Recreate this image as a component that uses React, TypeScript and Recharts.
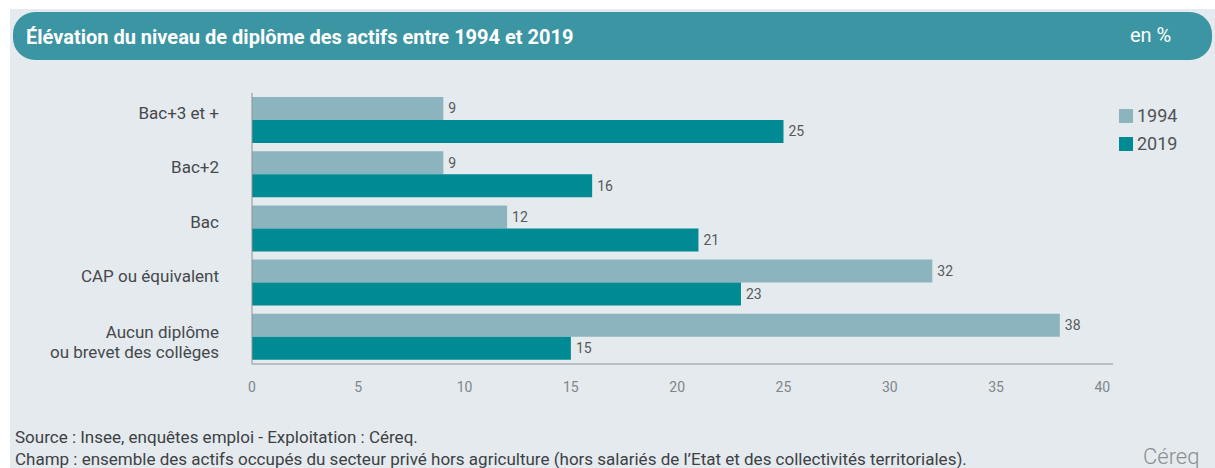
import React from 'react';
import { BarChart, Bar, XAxis, YAxis, LabelList } from 'recharts';

const categories = ['Bac+3 et +', 'Bac+2', 'Bac', 'CAP ou équivalent', 'Aucun diplôme\nou brevet des collèges'];
const values1994 = [9, 9, 12, 32, 38];
const values2019 = [25, 16, 21, 23, 15];
const xTicks = [0, 5, 10, 15, 20, 25, 30, 35, 40];

const series = [
    { key: 'y1994', name: '1994', color: '#8cb4be' },
    { key: 'y2019', name: '2019', color: '#008a93' },
];

const data = categories.map((category, i) => ({
    category,
    y1994: values1994[i],
    y2019: values2019[i],
}));

const FONT = 'Roboto, "Noto Sans", sans-serif';
const AXIS_COLOR = '#8c9296';

// two-line labels are split on \n
const CategoryTick = (props: any) => {
    const { x, y, payload } = props;
    const lines = String(payload.value).split('\n');
    return (
        <text x={x} y={y} textAnchor="end" fill="#45494c" fontSize={17} fontFamily={FONT}>
            {lines.length === 1 ? (
                <tspan x={x} dy={-1}>{lines[0]}</tspan>
            ) : (
                lines.map((line, i) => (
                    <tspan key={i} x={x} dy={i === 0 ? 1 : 20}>{line}</tspan>
                ))
            )}
        </text>
    );
};

const App: React.FC = () => {
    return (
        <div style={{ position: 'absolute', left: 0, top: 0, width: 1215, height: 468, background: '#fff', overflow: 'hidden' }}>
            <div style={{ position: 'absolute', left: 10, top: 9, right: 0, bottom: 0, background: '#e4eaee' }} />

            {/* title banner */}
            <div
                style={{
                    position: 'absolute', left: 13, top: 12, width: 1199, height: 48,
                    background: '#3b95a2', borderRadius: 22,
                }}
            />
            <div style={{ position: 'absolute', left: 26, top: 25, color: '#fff', fontFamily: FONT, fontWeight: 700, fontSize: 20, whiteSpace: 'nowrap' }}>
                Élévation du niveau de diplôme des actifs entre 1994 et 2019
            </div>
            <div style={{ position: 'absolute', left: 1130, top: 23, color: '#fff', fontFamily: FONT, fontSize: 20, whiteSpace: 'nowrap' }}>
                en %
            </div>

            <div style={{ position: 'absolute', left: 0, top: 0 }}>
                <BarChart
                    width={1215}
                    height={420}
                    data={data}
                    layout="vertical"
                    margin={{ top: 93, right: 102, bottom: 26, left: 0 }}
                    barCategoryGap={4}
                    barGap={0}
                >
                    <XAxis
                        type="number"
                        domain={[0, 40.5]}
                        ticks={xTicks}
                        height={30}
                        axisLine={{ stroke: AXIS_COLOR }}
                        tickLine={false}
                        tickSize={0}
                        tickMargin={18}
                        tick={{ fill: '#80868a', fontSize: 14, fontFamily: FONT }}
                    />
                    <YAxis
                        type="category"
                        dataKey="category"
                        width={252}
                        axisLine={{ stroke: AXIS_COLOR }}
                        tickLine={false}
                        tickSize={0}
                        tickMargin={33}
                        tick={<CategoryTick />}
                        interval={0}
                    />
                    {series.map((s) => (
                        <Bar key={s.key} dataKey={s.key} name={s.name} fill={s.color} isAnimationActive={false}>
                            <LabelList dataKey={s.key} position="right" offset={5} fill="#55595c" fontSize={14} fontFamily={FONT} />
                        </Bar>
                    ))}
                </BarChart>
            </div>

            {/* legend */}
            {series.map((s, i) => (
                <div key={s.key} style={{ position: 'absolute', left: 1119, top: 105 + i * 28, display: 'flex', alignItems: 'center', fontFamily: FONT, fontSize: 18, color: '#4f5356' }}>
                    <span style={{ display: 'inline-block', width: 14, height: 14, background: s.color, marginRight: 4 }} />
                    {s.name}
                </div>
            ))}

            {/* notes */}
            <div style={{ position: 'absolute', left: 15, top: 426, fontFamily: FONT, fontSize: 17, color: '#3d4144', lineHeight: '22px', whiteSpace: 'nowrap' }}>
                <div>Source : Insee, enquêtes emploi - Exploitation : Céreq.</div>
                <div>Champ : ensemble des actifs occupés du secteur privé hors agriculture (hors salariés de l’Etat et des collectivités territoriales).</div>
            </div>
            <div style={{ position: 'absolute', left: 1143, top: 444, fontFamily: FONT, fontSize: 22, fontWeight: 300, color: '#8a8f93', whiteSpace: 'nowrap' }}>
                Céreq
            </div>
        </div>
    );
};

export default App;
